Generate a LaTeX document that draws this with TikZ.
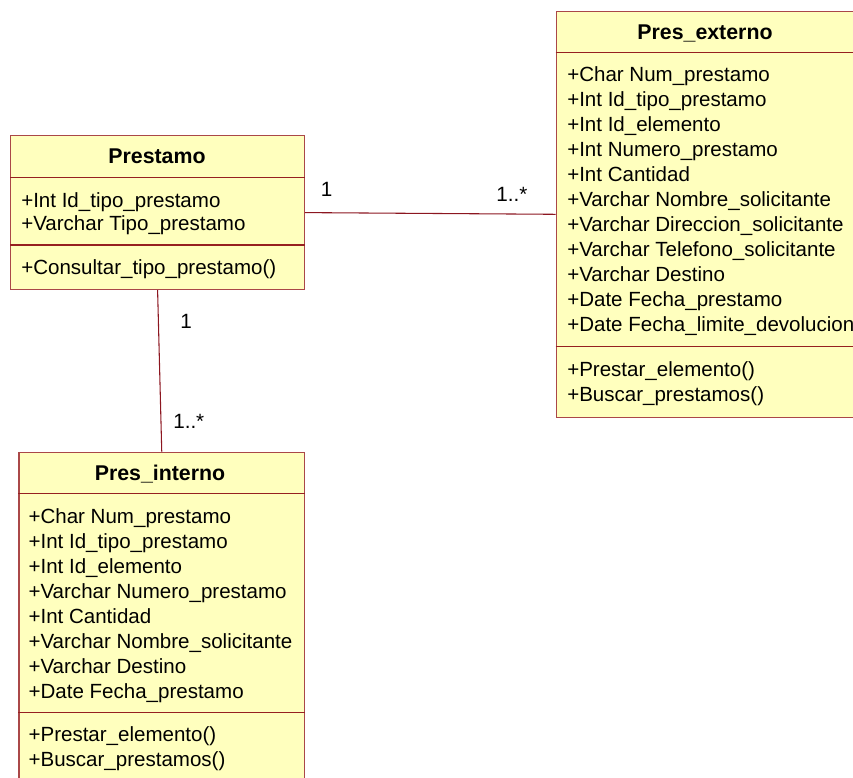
\documentclass[tikz,border=0pt]{standalone}
\usepackage{fontspec}
\setmainfont{Liberation Sans}
\definecolor{umlfill}{RGB}{255,255,190}
\definecolor{umlborder}{RGB}{170,72,72}
\definecolor{umldivider}{RGB}{150,32,32}
\definecolor{assoccolor}{RGB}{140,22,32}
\begin{document}
\begin{tikzpicture}[x=0.75pt,y=-0.75pt,
  classbox/.style 2 args={draw=umlborder, fill=umlfill, line width=0.9pt,
    inner sep=0pt, anchor=north west,
    minimum width=#1*0.75pt, minimum height=#2*0.75pt},
  divider/.style={draw=umldivider, line width=0.8pt},
  classtitle/.style={font=\fontsize{16}{19}\selectfont\bfseries,
    anchor=base, inner sep=0pt},
  % multi-line blocks are placed by the baseline of their last line
  members/.style={font=\fontsize{15.4}{18.75pt}\selectfont,
    anchor=base west, align=left, inner sep=0pt},
  assoc/.style={draw=assoccolor, line width=0.8pt},
  mult/.style={font=\fontsize{15.5}{18}\selectfont, anchor=base west, inner sep=0pt}]

\useasboundingbox (0,0) rectangle (853,778);
\clip (0,0) rectangle (853,778);

% ---- class Prestamo ----
\node[classbox={294}{154}] (prestamo) at (10,135) {};
\draw[divider] (prestamo.west |- 0,177.3) -- (prestamo.east |- 0,177.3);
\draw[divider] (prestamo.west |- 0,245) -- (prestamo.east |- 0,245);
\node[classtitle] (prestamoT) at (157,163) {Prestamo};
\node[members, font=\fontsize{15.4}{17.6pt}\selectfont] (prestamoA) at (21,230.5)
  {+Int Id\_tipo\_prestamo\\+Varchar Tipo\_prestamo};
\node[members] (prestamoO) at (21,274) {+Consultar\_tipo\_prestamo()};

% ---- class Pres_externo ----
\node[classbox={299}{406}] (externo) at (555.7,10.7) {};
\draw[divider] (externo.west |- 0,52.7) -- (externo.east |- 0,52.7);
\draw[divider] (externo.west |- 0,346.7) -- (externo.east |- 0,346.7);
\node[classtitle] (externoT) at (705,39) {Pres\_externo};
\node[members] (externoA) at (567,331)
  {+Char Num\_prestamo\\
   +Int Id\_tipo\_prestamo\\
   +Int Id\_elemento\\
   +Int Numero\_prestamo\\
   +Int Cantidad\\
   +Varchar Nombre\_solicitante\\
   +Varchar Direccion\_solicitante\\
   +Varchar Telefono\_solicitante\\
   +Varchar Destino\\
   +Date Fecha\_prestamo\\
   +Date Fecha\_limite\_devolucion};
\node[members] (externoO) at (567,401)
  {+Prestar\_elemento()\\+Buscar\_prestamos()};

% ---- class Pres_interno ----
\node[classbox={285.7}{340}] (interno) at (18.3,451.7) {};
\draw[divider] (interno.west |- 0,493.3) -- (interno.east |- 0,493.3);
\draw[divider] (interno.west |- 0,712.7) -- (interno.east |- 0,712.7);
\node[classtitle] (internoT) at (160,480) {Pres\_interno};
\node[members] (internoA) at (28.3,698)
  {+Char Num\_prestamo\\
   +Int Id\_tipo\_prestamo\\
   +Int Id\_elemento\\
   +Varchar Numero\_prestamo\\
   +Int Cantidad\\
   +Varchar Nombre\_solicitante\\
   +Varchar Destino\\
   +Date Fecha\_prestamo};
\node[members] (internoO) at (28.3,766)
  {+Prestar\_elemento()\\+Buscar\_prestamos()};

% ---- associations ----
\draw[assoc] (prestamo.east) -- (externo.west);
\draw[assoc] (prestamo.south) -- (interno.north);

% ---- multiplicities ----
\node[mult] (m1) at (320.5,196) {1};
\node[mult] (m2) at (496,201) {1..*};
\node[mult] (m3) at (180,328) {1};
\node[mult] (m4) at (173,428) {1..*};
\end{tikzpicture}
\end{document}
